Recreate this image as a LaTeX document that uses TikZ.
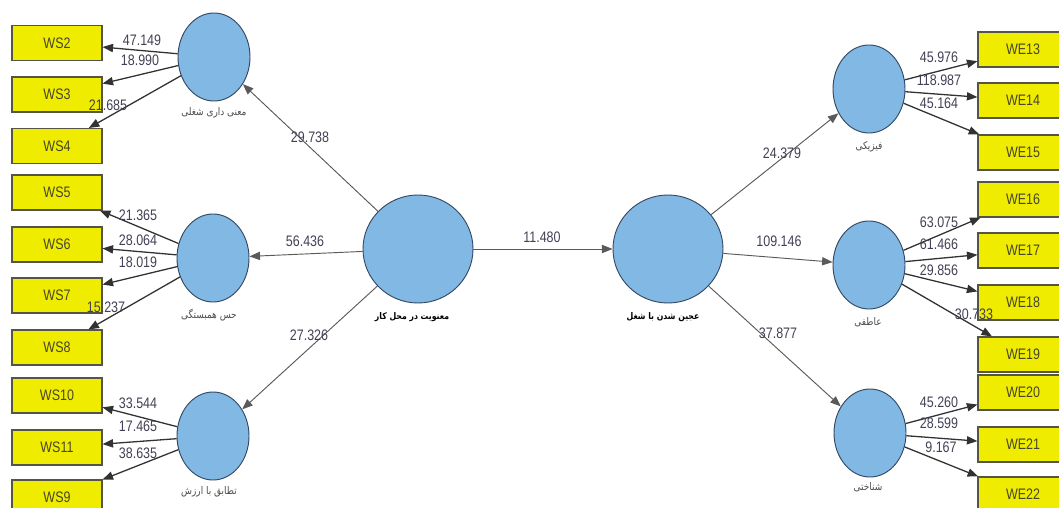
\documentclass[tikz,border=0pt]{standalone}
\usepackage{fontspec}
\setmainfont{Liberation Sans}
\newfontfamily\narrowfont[FakeStretch=0.82]{Liberation Sans}
\newfontfamily\arabicfont[Script=Arabic,FakeStretch=0.85]{DejaVu Sans}
\TeXXeTstate=1
\usepackage{tikz}
\usetikzlibrary{shapes.geometric,arrows.meta}
\definecolor{lvfill}{RGB}{130,185,228}
\definecolor{lvdraw}{RGB}{52,72,100}
\definecolor{boxfill}{RGB}{240,236,0}
\definecolor{boxdraw}{RGB}{85,85,70}
\definecolor{boxtext}{RGB}{70,70,40}
\definecolor{arrowcol}{RGB}{50,50,50}
\definecolor{pathcol}{RGB}{90,90,90}
\definecolor{coeftext}{RGB}{65,65,85}
\tikzstyle{latent}=[ellipse, draw=lvdraw, fill=lvfill, line width=0.8pt, inner sep=0pt, minimum width=2.16cm, minimum height=2.64cm]
\tikzstyle{biglatent}=[latent, minimum width=3.3cm, minimum height=3.24cm]
\tikzstyle{indbox}=[rectangle, draw=boxdraw, fill=boxfill, line width=0.9pt, inner sep=0pt, minimum width=2.7cm, minimum height=1.05cm, text=boxtext, font=\narrowfont\fontsize{13}{13}\selectfont]
\tikzstyle{loading}=[draw=arrowcol, line width=1.1pt, -{Triangle[length=9pt,width=7pt]}]
\tikzstyle{structural}=[draw=pathcol, line width=0.8pt, -{Triangle[length=9pt,width=7pt]}]
\tikzstyle{coef}=[inner sep=0pt, text=coeftext, font=\narrowfont\fontsize{13}{13}\selectfont]
\tikzstyle{lvname}=[inner sep=0pt, text=black!70, font=\arabicfont\fontsize{9}{9}\selectfont]
\tikzstyle{biglvname}=[lvname, text=black, font=\arabicfont\bfseries\fontsize{7.8}{8}\selectfont]
\begin{document}
\begin{tikzpicture}[x=0.03cm,y=-0.03cm]
	\useasboundingbox (0,0) rectangle (1059,508);
	\clip (0,0) rectangle (1059,508);
	% latent variables
	\node[biglatent] (spirit) at (418,249) {};
	\node[biglatent] (engage) at (668,249) {};
	\node[latent] (mean) at (214,57) {};
	\node[latent] (belong) at (213,258) {};
	\node[latent] (value) at (213,436) {};
	\node[latent] (phys) at (869,89) {};
	\node[latent] (emo) at (869,265) {};
	\node[latent] (cog) at (870,433) {};
	\node[biglvname] (nspirit) at (412,317) {\beginR معنویت در محل کار\endR};
	\node[biglvname] (nengage) at (663,317) {\beginR عجین شدن با شغل\endR};
	\node[lvname] (nmean) at (214,113) {\beginR معنی داری شغلی\endR};
	\node[lvname] (nbelong) at (209,315) {\beginR حس همبستگی\endR};
	\node[lvname] (nvalue) at (209,492) {\beginR تطابق با ارزش\endR};
	\node[lvname] (nphys) at (869,147) {\beginR فیزیکی\endR};
	\node[lvname] (nemo) at (868,322) {\beginR عاطفی\endR};
	\node[lvname] (ncog) at (868,487) {\beginR شناختی\endR};
	% indicators, left
	\node[indbox] (ws2) at (57,43) {WS2};
	\node[indbox] (ws3) at (57,94.5) {WS3};
	\node[indbox] (ws4) at (57,146) {WS4};
	\node[indbox] (ws5) at (57,192.5) {WS5};
	\node[indbox] (ws6) at (57,244.5) {WS6};
	\node[indbox] (ws7) at (57,295.5) {WS7};
	\node[indbox] (ws8) at (57,347.5) {WS8};
	\node[indbox] (ws10) at (57,395.5) {WS10};
	\node[indbox] (ws11) at (57,447.5) {WS11};
	\node[indbox] (ws9) at (57,497.5) {WS9};
	% indicators, right
	\node[indbox] (we13) at (1023,49.5) {WE13};
	\node[indbox] (we14) at (1023,100.5) {WE14};
	\node[indbox] (we15) at (1023,152.5) {WE15};
	\node[indbox] (we16) at (1023,199.5) {WE16};
	\node[indbox] (we17) at (1023,250.5) {WE17};
	\node[indbox] (we18) at (1023,302.5) {WE18};
	\node[indbox] (we19) at (1023,354.5) {WE19};
	\node[indbox] (we20) at (1023,392.5) {WE20};
	\node[indbox] (we21) at (1023,444.5) {WE21};
	\node[indbox] (we22) at (1023,494.5) {WE22};
	% inner model
	\draw[structural] (spirit) -- (engage);
	\draw[structural] (spirit) -- (mean);
	\draw[structural] (spirit) -- (belong);
	\draw[structural] (spirit) -- (value);
	\draw[structural] (engage) -- (phys);
	\draw[structural] (engage) -- (emo);
	\draw[structural] (engage) -- (cog);
	% outer model
	\draw[loading] (mean) -- (ws2);
	\draw[loading] (mean) -- (ws3);
	\draw[loading] (mean) -- (ws4);
	\draw[loading] (belong) -- (ws5);
	\draw[loading] (belong) -- (ws6);
	\draw[loading] (belong) -- (ws7);
	\draw[loading] (belong) -- (ws8);
	\draw[loading] (value) -- (ws10);
	\draw[loading] (value) -- (ws11);
	\draw[loading] (value) -- (ws9);
	\draw[loading] (phys) -- (we13);
	\draw[loading] (phys) -- (we14);
	\draw[loading] (phys) -- (we15);
	\draw[loading] (emo) -- (we16);
	\draw[loading] (emo) -- (we17);
	\draw[loading] (emo) -- (we18);
	\draw[loading] (emo) -- (we19);
	\draw[loading] (cog) -- (we20);
	\draw[loading] (cog) -- (we21);
	\draw[loading] (cog) -- (we22);
	% t values
	\node[coef] (t1) at (542,237) {11.480};
	\node[coef] (t2) at (310,137) {29.738};
	\node[coef] (t3) at (305,241) {56.436};
	\node[coef] (t4) at (309,335) {27.326};
	\node[coef] (t5) at (782,153) {24.379};
	\node[coef] (t6) at (779,241) {109.146};
	\node[coef] (t7) at (778,333) {37.877};
	\node[coef] (l2) at (142,40) {47.149};
	\node[coef] (l3) at (140,60) {18.990};
	\node[coef] (l4) at (108,105) {21.685};
	\node[coef] (l5) at (138,215) {21.365};
	\node[coef] (l6) at (138,240) {28.064};
	\node[coef] (l7) at (138,262) {18.019};
	\node[coef] (l8) at (106,307) {15.237};
	\node[coef] (l10) at (138,403) {33.544};
	\node[coef] (l11) at (138,426) {17.465};
	\node[coef] (l9) at (138,453) {38.635};
	\node[coef] (l13) at (939,57) {45.976};
	\node[coef] (l14) at (939,80) {118.987};
	\node[coef] (l15) at (939,103) {45.164};
	\node[coef] (l16) at (939,222) {63.075};
	\node[coef] (l17) at (939,244) {61.466};
	\node[coef] (l18) at (939,270) {29.856};
	\node[coef] (l19) at (974,314) {30.733};
	\node[coef] (l20) at (939,402) {45.260};
	\node[coef] (l21) at (939,423) {28.599};
	\node[coef] (l22) at (941,447) {9.167};
\end{tikzpicture}
\end{document}
